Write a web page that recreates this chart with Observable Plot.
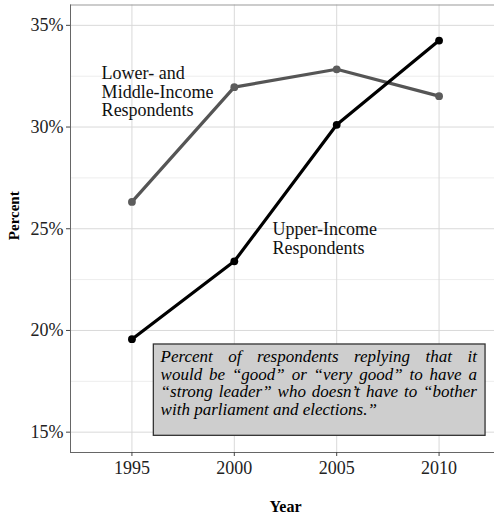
<!DOCTYPE html>
<html>
<head>
<meta charset="utf-8">
<script src="https://cdn.jsdelivr.net/npm/d3@7"></script>
<script src="https://cdn.jsdelivr.net/npm/@observablehq/plot@0.6"></script>
<style>
  html, body { margin: 0; padding: 0; background: #fff; }
  svg { display: block; }
  svg text { font-family: 'Liberation Serif', 'DejaVu Serif', serif; }
</style>
</head>
<body>
<script>
// ---- data ----
const years = [1995, 2000, 2005, 2010];
const upperIncome = [19.57, 23.40, 30.11, 34.25];
const lowerMiddleIncome = [26.32, 31.96, 32.84, 31.52];
const yTicks = [15, 20, 25, 30, 35];
const yMinorTicks = [17.5, 22.5, 27.5, 32.5];
const xTicks = [1995, 2000, 2005, 2010];
const xDomain = [1992, 2013];
const yDomain = [14, 36];

const lowerLabel = ["Lower- and\nMiddle-Income\nRespondents"];
const lowerLabelPos = [1993.52, 31.73];
const upperLabel = ["Upper-Income\nRespondents"];
const upperLabelPos = [2001.86, 24.53];

const noteLines = [
  "Percent of respondents replying that it",
  "would be “good” or “very good” to have a",
  "“strong leader” who doesn’t have to “bother",
  "with parliament and elections.”"
];
const noteBox = {x1: 1996.07, x2: 2012.27, y1: 14.82, y2: 19.31};
const noteTextX = [1996.40, 2011.85];
const noteTextY = 17.43;

const upperData = years.map((y, i) => ({year: y, value: upperIncome[i]}));
const lowerData = years.map((y, i) => ({year: y, value: lowerMiddleIncome[i]}));

const font = "'Liberation Serif', 'DejaVu Serif', serif";

const plot = Plot.plot({
  width: 494,
  height: 517,
  marginLeft: 70,
  marginRight: 0,
  marginTop: 4.5,
  marginBottom: 65,
  style: {fontFamily: font, fontSize: "18px", color: "#222", background: "#fff"},
  x: {domain: xDomain, range: [70, 500]},
  y: {domain: yDomain},
  marks: [
    Plot.gridY(yMinorTicks, {stroke: "#ededed", strokeOpacity: 1, strokeWidth: 1}),
    Plot.gridY(yTicks, {stroke: "#d9d9d9", strokeOpacity: 1, strokeWidth: 1}),
    Plot.gridX(xTicks, {stroke: "#d9d9d9", strokeOpacity: 1, strokeWidth: 1}),
    Plot.ruleY([yDomain[1]], {stroke: "#999", strokeWidth: 1}),
    Plot.ruleX([xDomain[0]], {stroke: "#666", strokeWidth: 1}),
    Plot.ruleY([yDomain[0]], {stroke: "#666", strokeWidth: 1}),
    Plot.axisY({ticks: yTicks, tickFormat: d => d + "%", tickSize: 4, tickPadding: 3, label: null, fontSize: 18, fontFamily: font, stroke: "#444", fill: "#222"}),
    Plot.axisX({ticks: xTicks, tickFormat: d => String(d), tickSize: 4, tickPadding: 5, label: null, fontSize: 18, fontFamily: font, stroke: "#444", fill: "#222"}),
    Plot.line(lowerData, {x: "year", y: "value", stroke: "#555", strokeWidth: 3.2}),
    Plot.dot(lowerData, {x: "year", y: "value", r: 3.9, fill: "#5c5c5c"}),
    Plot.line(upperData, {x: "year", y: "value", stroke: "#000", strokeWidth: 3.2}),
    Plot.dot(upperData, {x: "year", y: "value", r: 3.9, fill: "#000"}),
    Plot.text(lowerLabel, {x: () => lowerLabelPos[0], y: () => lowerLabelPos[1], text: d => d, textAnchor: "start", lineAnchor: "middle", lineHeight: 1.02, fontSize: 18, fontFamily: font, fill: "#111"}),
    Plot.text(upperLabel, {x: () => upperLabelPos[0], y: () => upperLabelPos[1], text: d => d, textAnchor: "start", lineAnchor: "middle", lineHeight: 1.06, fontSize: 18, fontFamily: font, fill: "#111"}),
    Plot.rect([noteBox], {x1: "x1", x2: "x2", y1: "y1", y2: "y2", fill: "#cecece", stroke: "#333", strokeWidth: 1.3}),
    Plot.text([noteLines.join("\n")], {x: () => noteTextX[0], y: () => noteTextY, text: d => d, textAnchor: "start", lineAnchor: "middle", lineHeight: 1.03, fontSize: 17, fontFamily: font, fontStyle: "italic", fill: "#000"}),
    Plot.text(["Percent"], {frameAnchor: "left", textAnchor: "middle", lineAnchor: "middle", dx: -56, dy: -13, rotate: -90, fontWeight: "bold", fontSize: 15, fontFamily: font, fill: "#000"}),
    Plot.text(["Year"], {frameAnchor: "bottom", textAnchor: "middle", lineAnchor: "middle", dx: 3, dy: 54, fontWeight: "bold", fontSize: 16, fontFamily: font, fill: "#000"})
  ]
});

document.body.append(plot);

// justify the note lines (all but the last)
const xs = plot.scale("x");
const target = xs.apply(noteTextX[1]) - xs.apply(noteTextX[0]);
plot.querySelectorAll("text").forEach(t => {
  if (!t.textContent.startsWith("Percent of")) return;
  const spans = t.querySelectorAll("tspan");
  spans.forEach((s, i) => {
    if (i === spans.length - 1) return;
    const len = s.getComputedTextLength();
    const n = (s.textContent.match(/ /g) || []).length;
    if (n > 0) s.setAttribute("word-spacing", ((target - len) / n).toFixed(2));
  });
});
</script>
</body>
</html>
